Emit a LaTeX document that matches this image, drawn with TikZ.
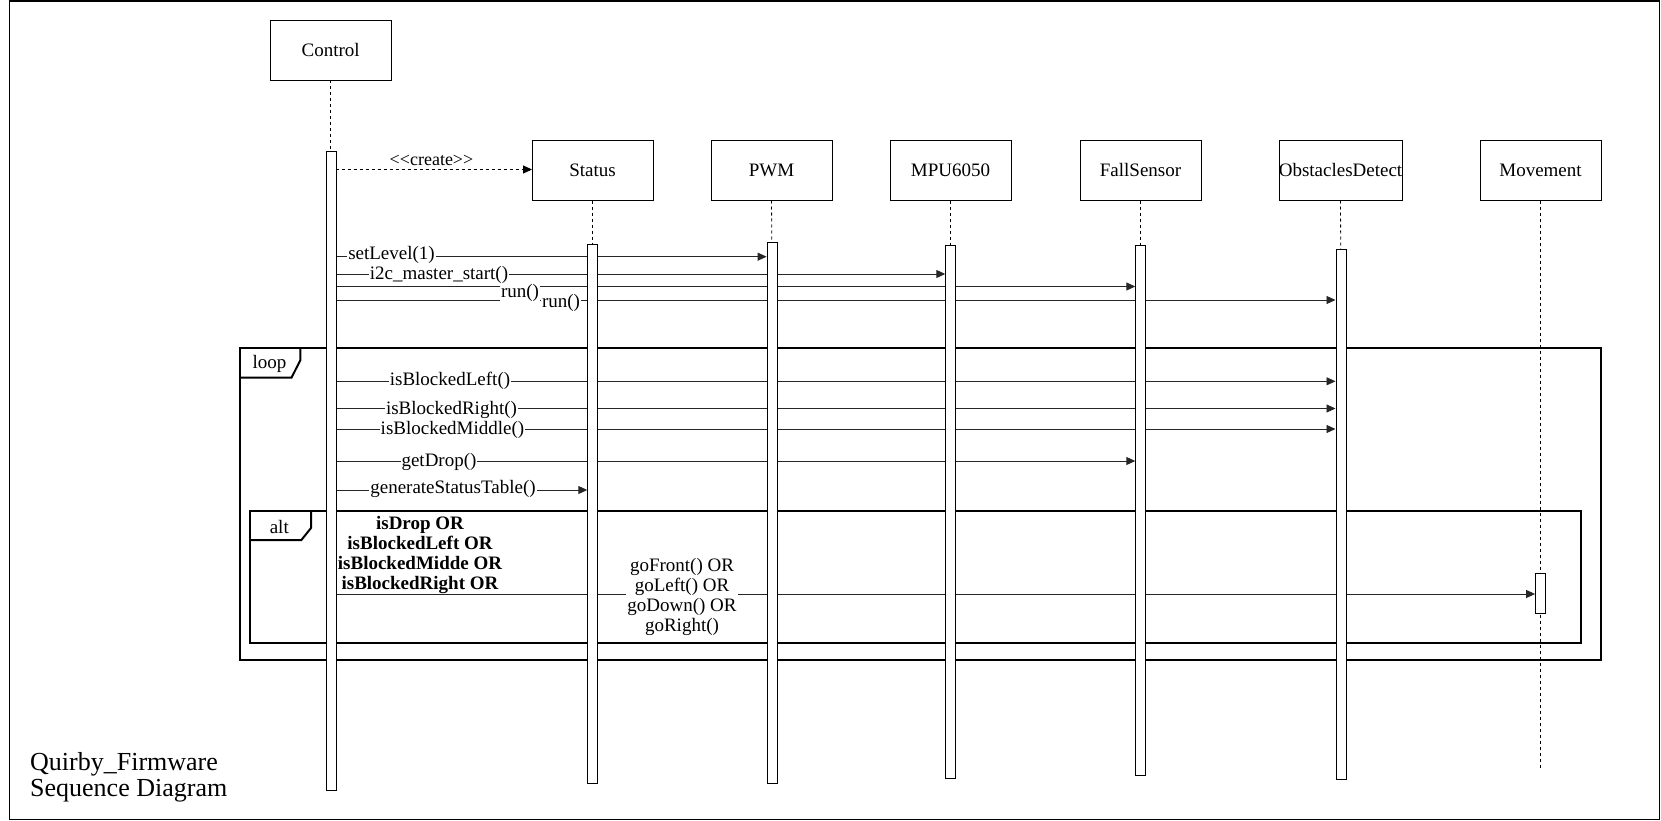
\documentclass[tikz,border=0pt]{standalone}
\usepackage{fontspec}
\setmainfont{Liberation Serif}
\usetikzlibrary{arrows.meta}
\pgfdeclarelayer{back}
\pgfsetlayers{back,main}
\newcommand\msgfont{\fontsize{19}{20}\selectfont}

\begin{document}
\begin{tikzpicture}[x=1pt,y=-1pt,
  obj/.style={draw,fill=white,minimum width=120.5pt,minimum height=60pt,inner sep=0pt,font=\msgfont},
  act/.style={draw,fill=white,minimum width=10pt,inner sep=0pt,anchor=north},
  life/.style={dash pattern=on 3pt off 3pt,line width=0.8pt},
  msg/.style={line width=0.9pt,black!85,-{Triangle[length=9pt,width=8pt]}},
  lbl/.style={fill=white,inner sep=1pt,font=\msgfont},
  frm/.style={line width=2pt}]
  \useasboundingbox (0,0) rectangle (1661,821);
  \draw[line width=1.2pt] (9.5,1) rectangle (1659.5,819.5);

  \node[obj] (control) at (330.7,50.2) {Control};
  \node[obj] (status) at (592.5,170.3) {Status};
  \node[obj] (pwm) at (771.5,170.3) {PWM};
  \node[obj] (mpu) at (950.5,170.3) {MPU6050};
  \node[obj] (fall) at (1140.5,170.3) {FallSensor};
  \node[obj] (obst) at (1340.5,170.3) {ObstaclesDetect};
  \node[obj] (move) at (1540.5,170.3) {Movement};

  \node[act,minimum height=639.3pt] (controlbar) at (330.7,150.7) {};
  \node[act,minimum height=539.3pt] (statusbar) at (592.5,244) {};
  \node[act,minimum height=541.6pt] (pwmbar) at (771.8,241.7) {};
  \node[act,minimum height=532.4pt] (mpubar) at (950.5,245.3) {};
  \node[act,minimum height=530pt] (fallbar) at (1140.5,245.3) {};
  \node[act,minimum height=529.7pt] (obstbar) at (1340.7,249.3) {};
  \coordinate (moveend) at (1540.5,770);
  \node[act,minimum height=40pt] (movebar) at (1540.3,573.3) {};

  \begin{pgfonlayer}{back}
    \draw[life] (control.south) -- (controlbar.north);
    \draw[life] (status.south) -- (statusbar.north);
    \draw[life] (pwm.south) -- (pwmbar.north);
    \draw[life] (mpu.south) -- (mpubar.north);
    \draw[life] (fall.south) -- (fallbar.north);
    \draw[life] (obst.south) -- (obstbar.north);
    \draw[life] (move.south) -- (moveend);

    \draw[frm] (240,348) rectangle (1600.5,660);
    \draw[frm] (240,377.7) -- (291.5,377.7) -- (300.4,360) -- (300.4,348);
    \node[font=\msgfont] (looplbl) at (269.6,364) {loop};
    \draw[frm] (250.4,511) rectangle (1580.7,643.3);
    \draw[frm] (250.4,540) -- (301.4,540) -- (311,528) -- (311,511);
    \node[font=\msgfont] (altlbl) at (279.3,527) {alt};

    \draw[line width=0.9pt,dash pattern=on 3pt off 3pt,-{Triangle[length=9pt,width=8pt]}]
      (controlbar.east |- 0,169.5) -- (status.west |- 0,169.5);
    \node[lbl,font=\fontsize{18}{19}\selectfont] (createlbl) at (431.5,160.7) {{<}{<}create{>}{>}};

    \foreach \yy/\tgt in {256.7/pwmbar,274/mpubar,286.5/fallbar,300/obstbar,
      381.3/obstbar,408.5/obstbar,429/obstbar,461/fallbar,490/statusbar,594/movebar}
      \draw[msg] (controlbar.east |- 0,\yy) -- (\tgt.west |- 0,\yy);

    \foreach \xx/\yy/\txt [count=\n] in {391.5/255/setLevel(1),439/275/i2c\_master\_start(),
      520/293.3/run(),561/303.3/run(),450/381/isBlockedLeft(),451.5/409.5/isBlockedRight(),
      452.5/430/isBlockedMiddle(),439/462/getDrop(),453/489/generateStatusTable()}
      \node[lbl] (m\n) at (\xx,\yy) {\txt};

    \node[lbl,align=center] (golbl) at (682,596.7) {goFront() OR\\goLeft() OR\\goDown() OR\\goRight()};
  \end{pgfonlayer}

  \node[align=center,inner sep=0pt,font=\bfseries\msgfont] (cond) at (420,555)
    {isDrop OR\\isBlockedLeft OR\\isBlockedMidde OR\\isBlockedRight OR};

  \node[anchor=west,align=left,inner sep=0pt,font=\fontsize{26}{26}\selectfont] (title) at (30,777)
    {Quirby\_Firmware\\Sequence Diagram};
\end{tikzpicture}
\end{document}
